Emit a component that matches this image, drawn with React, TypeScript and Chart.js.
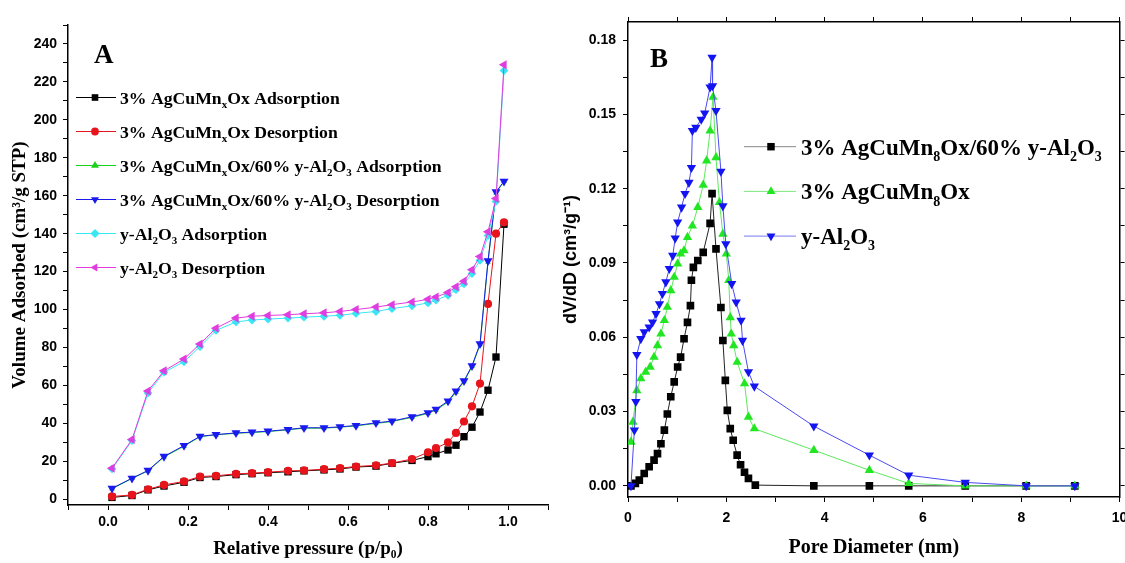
import React, { useEffect, useRef } from 'react';
import { Chart, registerables } from 'chart.js';

Chart.register(...registerables);

// ---------------- Panel A : N2 adsorption / desorption isotherms ----------------
const pressure = [0.01, 0.06, 0.10, 0.14, 0.19, 0.23, 0.27, 0.32, 0.36, 0.40, 0.45, 0.49, 0.54, 0.58, 0.62, 0.67, 0.71, 0.76, 0.80, 0.82, 0.85, 0.87, 0.89, 0.91, 0.93, 0.95, 0.97, 0.99];
const agAdsorption = [1, 2, 5, 7, 9, 11.5, 12, 13, 13.5, 14, 14.5, 15, 15.5, 16, 17, 17.5, 19, 20.5, 22.5, 24, 26, 28.5, 33, 38, 46, 57.5, 75, 145];
const agDesorption = [1.5, 2.3, 5.3, 7.6, 9.4, 12, 12.4, 13.4, 13.8, 14.3, 15, 15.2, 15.9, 16.4, 17.3, 17.9, 19.1, 21.2, 24.8, 27, 30, 35, 41, 49, 61, 103, 140, 146];
const agAlAdsorption = [5.5, 11, 15, 22.3, 28, 33, 34, 34.8, 35.2, 35.7, 36.6, 37.5, 37.5, 38, 38.7, 40, 41, 43.2, 45.3, 47, 51.3, 56.5, 62, 70, 81.5, 125, 161.5, 167.6];
const agAlDesorption = [5.8, 11.1, 15.2, 22.6, 28.3, 33.2, 34.1, 35, 35.4, 35.9, 36.8, 37.7, 37.7, 38.2, 38.9, 40.3, 41.2, 43.5, 45.6, 47.4, 51.8, 57, 62.4, 70.4, 81.9, 125.7, 162, 167.6];
const alAdsorption = [16, 31, 56, 67, 72.5, 80.5, 89, 93.5, 94.5, 95, 95.5, 96, 96.5, 97, 98, 99, 100.5, 102, 103.5, 105, 107.5, 110.5, 113.5, 119, 126, 139, 157, 226];
const alDesorption = [16.4, 31.5, 57.1, 67.7, 73.9, 81.9, 90.2, 95.5, 96.5, 96.9, 97.3, 97.8, 98.3, 99, 100, 101.3, 102.6, 104, 105.4, 106.6, 109, 112, 115, 121, 128, 141, 158.6, 229];

// ---------------- Panel B : pore size distribution ----------------
const compositeD = [0.06, 0.15, 0.23, 0.33, 0.43, 0.53, 0.60, 0.67, 0.74, 0.80, 0.87, 0.94, 1.01, 1.07, 1.14, 1.21, 1.27, 1.29, 1.33, 1.42, 1.53, 1.67, 1.71, 1.79, 1.89, 1.93, 1.98, 2.02, 2.08, 2.14, 2.22, 2.29, 2.37, 2.45, 2.59, 3.78, 4.91, 5.71, 6.86, 8.10, 9.09];
const compositeV = [0, 0.001, 0.0023, 0.005, 0.0077, 0.0104, 0.013, 0.017, 0.0225, 0.029, 0.036, 0.042, 0.048, 0.052, 0.0594, 0.066, 0.0728, 0.083, 0.0882, 0.091, 0.0943, 0.106, 0.118, 0.0957, 0.072, 0.0587, 0.0426, 0.0305, 0.0231, 0.0184, 0.0124, 0.0085, 0.0055, 0.003, 0.0003, 0, 0, 0, 0, 0, 0];
const agD = [0.06, 0.10, 0.18, 0.26, 0.36, 0.45, 0.53, 0.60, 0.67, 0.74, 0.80, 0.87, 0.94, 1.01, 1.07, 1.14, 1.21, 1.31, 1.42, 1.53, 1.60, 1.67, 1.73, 1.79, 1.86, 1.93, 2.00, 2.05, 2.08, 2.10, 2.15, 2.22, 2.37, 2.45, 2.57, 3.78, 4.91, 5.71, 6.86, 8.10, 9.09];
const agV = [0.0177, 0.0258, 0.0385, 0.0433, 0.046, 0.048, 0.052, 0.0567, 0.0614, 0.0668, 0.0722, 0.0789, 0.0843, 0.0897, 0.0937, 0.095, 0.1004, 0.105, 0.1125, 0.1215, 0.1313, 0.1434, 0.157, 0.1326, 0.1145, 0.1017, 0.0937, 0.083, 0.068, 0.0614, 0.0567, 0.05, 0.0413, 0.0278, 0.0231, 0.0144, 0.0063, 0.001, 0, 0, 0];
const aluminaD = [0.06, 0.13, 0.16, 0.18, 0.26, 0.33, 0.43, 0.50, 0.57, 0.64, 0.70, 0.77, 0.84, 0.91, 0.96, 1.01, 1.09, 1.16, 1.24, 1.29, 1.31, 1.38, 1.49, 1.56, 1.67, 1.71, 1.72, 1.79, 1.89, 1.93, 1.99, 2.11, 2.20, 2.30, 2.33, 2.45, 2.57, 3.78, 4.91, 5.71, 6.86, 8.10, 9.09];
const aluminaV = [0, 0.0225, 0.034, 0.053, 0.0594, 0.0621, 0.0641, 0.0661, 0.0695, 0.0735, 0.0776, 0.0823, 0.0877, 0.093, 0.1, 0.1065, 0.1125, 0.118, 0.1225, 0.1285, 0.1434, 0.1447, 0.148, 0.1505, 0.161, 0.173, 0.1615, 0.1515, 0.127, 0.113, 0.0977, 0.0816, 0.0742, 0.0668, 0.0587, 0.046, 0.0402, 0.0241, 0.0124, 0.0043, 0.0014, 0, 0];

type Part = [string, boolean?];
type Marker = 'square' | 'circle' | 'up' | 'down' | 'diamond' | 'left';

const legendA: Part[][] = [
  [['3% AgCuMn'], ['x', true], ['Ox Adsorption']],
  [['3% AgCuMn'], ['x', true], ['Ox Desorption']],
  [['3% AgCuMn'], ['x', true], ['Ox/60% y-Al'], ['2', true], ['O'], ['3', true], [' Adsorption']],
  [['3% AgCuMn'], ['x', true], ['Ox/60% y-Al'], ['2', true], ['O'], ['3', true], [' Desorption']],
  [['y-Al'], ['2', true], ['O'], ['3', true], [' Adsorption']],
  [['y-Al'], ['2', true], ['O'], ['3', true], [' Desorption']],
];
const legendB: Part[][] = [
  [['3% AgCuMn'], ['8', true], ['Ox/60% y-Al'], ['2', true], ['O'], ['3', true]],
  [['3% AgCuMn'], ['8', true], ['Ox']],
  [['y-Al'], ['2', true], ['O'], ['3', true]],
];

const SERIF = '"Liberation Serif", "Times New Roman", serif';
const SANS = '"Liberation Sans", Arial, sans-serif';

const colorsA = ['#000000', '#e8141c', '#19d219', '#1a1aee', '#38e6f5', '#e03ce0'];
const markersA: Marker[] = ['square', 'circle', 'up', 'down', 'diamond', 'left'];
const colorsB = ['#000000', '#22e622', '#1414f0'];
const lineColorsB = ['#222222', '#5ee85e', '#4a4af0'];
const markersB: Marker[] = ['square', 'up', 'down'];

function markerProps(m: Marker) {
  switch (m) {
    case 'square': return { pointStyle: 'rect', pointRotation: 0 };
    case 'circle': return { pointStyle: 'circle', pointRotation: 0 };
    case 'up': return { pointStyle: 'triangle', pointRotation: 0 };
    case 'down': return { pointStyle: 'triangle', pointRotation: 180 };
    case 'diamond': return { pointStyle: 'rectRot', pointRotation: 0 };
    default: return { pointStyle: 'triangle', pointRotation: -90 };
  }
}

function drawMarker(ctx: CanvasRenderingContext2D, m: Marker, x: number, y: number, r: number, color: string) {
  ctx.save();
  ctx.fillStyle = color;
  ctx.beginPath();
  const h = 0.866 * r;
  if (m === 'square') { const s = 0.72 * r; ctx.rect(x - s, y - s, 2 * s, 2 * s); }
  else if (m === 'circle') ctx.arc(x, y, r * 0.85, 0, Math.PI * 2);
  else if (m === 'up') { ctx.moveTo(x, y - r); ctx.lineTo(x + h, y + r / 2); ctx.lineTo(x - h, y + r / 2); }
  else if (m === 'down') { ctx.moveTo(x, y + r); ctx.lineTo(x + h, y - r / 2); ctx.lineTo(x - h, y - r / 2); }
  else if (m === 'left') { ctx.moveTo(x - r, y); ctx.lineTo(x + r / 2, y - h); ctx.lineTo(x + r / 2, y + h); }
  else { ctx.moveTo(x, y - r); ctx.lineTo(x + r, y); ctx.lineTo(x, y + r); ctx.lineTo(x - r, y); }
  ctx.closePath();
  ctx.fill();
  ctx.restore();
}

function drawRich(ctx: CanvasRenderingContext2D, parts: Part[], x: number, y: number, size: number) {
  let cx = x;
  for (const [t, sub] of parts) {
    const fs = sub ? Math.round(size * 0.62) : size;
    ctx.font = `bold ${fs}px ${SERIF}`;
    ctx.fillText(t, cx, sub ? y + size * 0.28 : y);
    cx += ctx.measureText(t).width;
  }
}

interface DecorOpts {
  letter: string; lx: number; ly: number;
  items: Part[][]; colors: string[]; lineColors: string[]; markers: Marker[];
  x0: number; x1: number; mx: number; tx: number; y0: number; dy: number; size: number; r: number;
}

function decorPlugin(o: DecorOpts) {
  return {
    id: 'decor',
    afterDraw(chart: any) {
      const ctx: CanvasRenderingContext2D = chart.ctx;
      ctx.save();
      ctx.textAlign = 'left';
      ctx.textBaseline = 'alphabetic';
      ctx.fillStyle = '#000';
      ctx.font = `bold 27px ${SERIF}`;
      ctx.fillText(o.letter, o.lx, o.ly);
      o.items.forEach((parts, i) => {
        const cy = o.y0 + i * o.dy;
        ctx.strokeStyle = o.lineColors[i];
        ctx.lineWidth = 1;
        ctx.beginPath();
        ctx.moveTo(o.x0, cy);
        ctx.lineTo(o.x1, cy);
        ctx.stroke();
        drawMarker(ctx, o.markers[i], o.mx, cy, o.r, o.colors[i]);
        ctx.fillStyle = '#000';
        drawRich(ctx, parts, o.tx, cy + o.size * 0.34, o.size);
      });
      ctx.restore();
    },
  };
}

const isMult = (v: number, step: number) => Math.abs(v / step - Math.round(v / step)) < 1e-6;
const tickFont = { family: SANS, size: 14, weight: 'bold' as const };
const axisGrid = { display: true, drawOnChartArea: false, drawTicks: true, tickLength: 5, color: '#000', lineWidth: 1 };
const axisBorder = { display: true, color: '#000', width: 1.5 };

function radiusFor(m: Marker, base: number) {
  if (m === 'square') return base + 0.8;
  if (m === 'circle') return base - 0.3;
  if (m === 'diamond') return base;
  return base + 0.8;
}

const fixW = (w: number) => (s: any) => { s.width = w; s.paddingTop = 0; s.paddingBottom = 0; };
const fixH = (h: number) => (s: any) => { s.height = h; s.paddingLeft = 0; s.paddingRight = 0; };

function buildA() {
  const series = [agAdsorption, agDesorption, agAlAdsorption, agAlDesorption, alAdsorption, alDesorption];
  const names = ['3% AgCuMnxOx Adsorption', '3% AgCuMnxOx Desorption', '3% AgCuMnxOx/60% y-Al2O3 Adsorption', '3% AgCuMnxOx/60% y-Al2O3 Desorption', 'y-Al2O3 Adsorption', 'y-Al2O3 Desorption'];
  const datasets = series.map((ys, i) => ({
    label: names[i],
    data: pressure.map((x, j) => ({ x, y: ys[j] })),
    borderColor: colorsA[i],
    backgroundColor: colorsA[i],
    borderWidth: 1,
    pointBorderWidth: 0,
    pointRadius: i === 2 ? 3.2 : radiusFor(markersA[i], 4.4),
    ...markerProps(markersA[i]),
    tension: 0,
    order: series.length - i,
  }));
  return {
    type: 'line',
    data: { datasets },
    options: {
      responsive: false,
      animation: false,
      layout: { padding: { top: 25, right: 12, left: 0, bottom: 0 } },
      plugins: { legend: { display: false }, tooltip: { enabled: false } },
      scales: {
        x: {
          type: 'linear', min: -0.1, max: 1.1,
          border: axisBorder, grid: axisGrid,
          ticks: {
            stepSize: 0.1, autoSkip: false, includeBounds: false, maxRotation: 0, padding: 4, color: '#000', font: tickFont,
            callback: (v: number) => (v > -0.01 && isMult(v, 0.2) ? v.toFixed(1) : ''),
          },
          title: { display: true, text: 'Relative pressure (p/p₀)', color: '#000', font: { family: SERIF, size: 19, weight: 'bold' }, padding: { top: 0, bottom: 3 } },
          afterFit: fixH(58),
        },
        y: {
          type: 'linear', min: -3, max: 250,
          border: axisBorder, grid: axisGrid,
          ticks: {
            stepSize: 10, autoSkip: false, includeBounds: false, padding: 6, color: '#000', font: tickFont,
            callback: (v: number) => (v >= 0 && v <= 240 && isMult(v, 20) ? String(Math.round(v)) : ''),
          },
          title: { display: true, text: 'Volume Adsorbed (cm³/g STP)', color: '#000', font: { family: SERIF, size: 19, weight: 'bold' }, padding: { top: 9, bottom: 0 } },
          afterFit: fixW(68),
        },
      },
    },
    plugins: [decorPlugin({
      letter: 'A', lx: 94, ly: 63, items: legendA, colors: colorsA, lineColors: colorsA, markers: markersA,
      x0: 76, x1: 116, mx: 95, tx: 120, y0: 97.5, dy: 34, size: 17.7, r: 4.6,
    })],
  };
}

function buildB() {
  const xs = [compositeD, agD, aluminaD];
  const ys = [compositeV, agV, aluminaV];
  const names = ['3% AgCuMn8Ox/60% y-Al2O3', '3% AgCuMn8Ox', 'y-Al2O3'];
  const datasets = xs.map((dx, i) => ({
    label: names[i],
    data: dx.map((x, j) => ({ x, y: ys[i][j] })),
    borderColor: lineColorsB[i],
    backgroundColor: colorsB[i],
    borderWidth: 1,
    pointBorderWidth: 0,
    pointRadius: radiusFor(markersB[i], 4.6),
    ...markerProps(markersB[i]),
    tension: 0,
    order: xs.length - i,
  }));
  return {
    type: 'line',
    data: { datasets },
    options: {
      responsive: false,
      animation: false,
      layout: { padding: 0 },
      plugins: { legend: { display: false }, tooltip: { enabled: false } },
      scales: {
        x: {
          type: 'linear', position: 'bottom', min: 0, max: 10,
          border: axisBorder, grid: axisGrid,
          ticks: {
            stepSize: 1, autoSkip: false, includeBounds: false, maxRotation: 0, padding: 8, color: '#000', font: tickFont,
            callback: (v: number) => (isMult(v, 2) ? String(Math.round(v)) : ''),
          },
          title: { display: true, text: 'Pore Diameter (nm)', color: '#000', font: { family: SERIF, size: 20, weight: 'bold' }, padding: { top: 0, bottom: 3 } },
          afterFit: fixH(66),
        },
        x2: {
          type: 'linear', position: 'top', min: 0, max: 10,
          border: axisBorder, grid: axisGrid,
          ticks: { stepSize: 1, autoSkip: false, includeBounds: false, display: false },
          afterFit: fixH(22),
        },
        y: {
          type: 'linear', position: 'left', min: -0.0045, max: 0.1873,
          border: axisBorder, grid: axisGrid,
          ticks: {
            stepSize: 0.015, autoSkip: false, includeBounds: false, padding: 7, color: '#000', font: tickFont,
            callback: (v: number) => (v > -0.001 && isMult(v, 0.03) ? v.toFixed(2) : ''),
          },
          title: { display: true, text: 'dV/dD (cm³/g⁻¹)', color: '#000', font: { family: SANS, size: 18, weight: 'bold' }, padding: { top: 0, bottom: 0 } },
          afterFit: fixW(68),
        },
        y2: {
          type: 'linear', position: 'right', min: -0.0045, max: 0.1873,
          border: axisBorder, grid: axisGrid,
          ticks: { stepSize: 0.015, autoSkip: false, includeBounds: false, display: false },
          afterFit: fixW(5),
        },
      },
    },
    plugins: [decorPlugin({
      letter: 'B', lx: 90, ly: 67, items: legendB, colors: colorsB, lineColors: ['#888888', '#7ee87e', '#7a7af0'], markers: markersB,
      x0: 184, x1: 236, mx: 211, tx: 241, y0: 146.7, dy: 44.7, size: 23, r: 5.2,
    })],
  };
}

export default function App() {
  const leftRef = useRef<HTMLCanvasElement>(null);
  const rightRef = useRef<HTMLCanvasElement>(null);
  useEffect(() => {
    const a = new Chart(leftRef.current as HTMLCanvasElement, buildA() as any);
    const b = new Chart(rightRef.current as HTMLCanvasElement, buildB() as any);
    return () => { a.destroy(); b.destroy(); };
  }, []);
  return (
    <div style={{ position: 'absolute', left: 0, top: 0, width: 1125, height: 563, background: '#ffffff', overflow: 'hidden' }}>
      <canvas ref={leftRef} width={560} height={563} style={{ position: 'absolute', left: 0, top: 0, width: 560, height: 563 }} />
      <canvas ref={rightRef} width={565} height={563} style={{ position: 'absolute', left: 560, top: 0, width: 565, height: 563 }} />
    </div>
  );
}
